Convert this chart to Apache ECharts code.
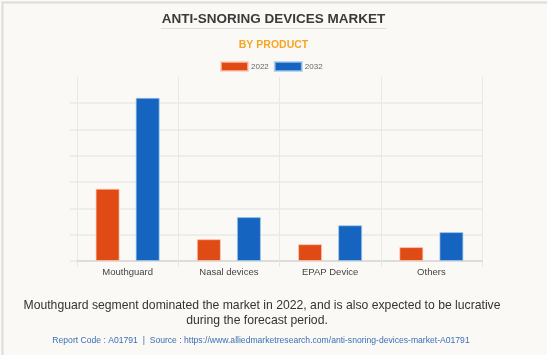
<!DOCTYPE html>
<html><head><meta charset="utf-8">
<script src="https://cdn.jsdelivr.net/npm/echarts@6/dist/echarts.min.js"></script>
<style>html,body{margin:0;padding:0;background:#FAF9F5;}#c{width:547px;height:355px;}</style>
</head><body><div id="c"></div>
<script>
const categories = ['Mouthguard', 'Nasal devices', 'EPAP Device', 'Others'];
const seriesNames = ['2022', '2032'];
const values2022 = [2.75, 0.83, 0.64, 0.53];
const values2032 = [6.21, 1.67, 1.36, 1.10];

const chart = echarts.init(document.getElementById('c'), null, {renderer: 'canvas'});
const FONT = 'Liberation Sans, Arial, sans-serif';
chart.setOption({
  backgroundColor: '#FAF9F5',
  animation: false,
  title: [
    {text: 'ANTI-SNORING DEVICES MARKET', left: 'center', top: 7,
     textStyle: {fontFamily: FONT, fontSize: 13.5, fontWeight: 'bold', color: '#3a3a3a'}},
    {text: 'BY PRODUCT', left: 'center', top: 35,
     textStyle: {fontFamily: FONT, fontSize: 10.5, fontWeight: 'bold', color: '#F6A623'}}
  ],
  legend: {
    data: seriesNames, top: 56, left: 215, itemWidth: 27, itemHeight: 9, itemGap: 5,
    icon: 'rect',
    textStyle: {fontFamily: FONT, fontSize: 8, color: '#666', padding: [0, 0, 0, -2]}
  },
  grid: [
    {left: 77, right: 65, top: 77, bottom: 94},
    {left: 70, right: 65, top: 103, bottom: 94}
  ],
  xAxis: [
    {type: 'category', data: categories, gridIndex: 0,
     axisLine: {lineStyle: {color: '#d8d8d6', width: 1.5}},
     axisTick: {show: true, length: 6, lineStyle: {color: '#e6e6e2'}},
     splitLine: {show: true, lineStyle: {color: '#e8e8e4'}},
     axisLabel: {fontFamily: FONT, fontSize: 9.5, color: '#444', margin: 6}},
    {type: 'value', gridIndex: 1, show: false, min: 0, max: 1}
  ],
  yAxis: [
    {type: 'value', gridIndex: 0, min: 0, max: 7, interval: 1,
     axisLabel: {show: false}, axisLine: {show: false}, axisTick: {show: false}, splitLine: {show: false}},
    {type: 'value', gridIndex: 1, min: 0, max: 6, interval: 1,
     axisLabel: {show: false}, axisLine: {show: false}, axisTick: {show: false},
     splitLine: {show: true, lineStyle: {color: '#e8e8e4', width: 1.5}}}
  ],
  series: [
    {name: seriesNames[0], type: 'bar', data: values2022, xAxisIndex: 0, yAxisIndex: 0,
     barWidth: 24, barGap: '67%',
     itemStyle: {color: '#E04A14', borderColor: 'rgba(255,200,180,0.7)', borderWidth: 1}},
    {name: seriesNames[1], type: 'bar', data: values2032, xAxisIndex: 0, yAxisIndex: 0,
     barWidth: 24,
     itemStyle: {color: '#1565C0', borderColor: 'rgba(160,200,240,0.7)', borderWidth: 1}}
  ],
  graphic: [
    {type: 'rect', left: 0, top: 0, shape: {width: 546, height: 354},
     style: {fill: 'none', stroke: '#dcdcdc', lineWidth: 2}, silent: true},
    {type: 'line', shape: {x1: 161, y1: 28.5, x2: 386, y2: 28.5},
     style: {stroke: '#dddddd', lineWidth: 1}, silent: true},
    {type: 'text', x: 262, y: 306, silent: true,
     style: {text: 'Mouthguard segment dominated the market in 2022, and is also expected to be lucrative',
       font: '12.2px ' + FONT, fill: '#333', textAlign: 'center', textVerticalAlign: 'middle'}},
    {type: 'text', x: 257, y: 321, silent: true,
     style: {text: 'during the forecast period.',
       font: '12.2px ' + FONT, fill: '#333', textAlign: 'center', textVerticalAlign: 'middle'}},
    {type: 'text', x: 261, y: 341, silent: true,
     style: {text: 'Report Code : A01791  |  Source : https://www.alliedmarketresearch.com/anti-snoring-devices-market-A01791',
       font: '8.6px ' + FONT, fill: '#3a6fb8', textAlign: 'center', textVerticalAlign: 'middle'}}
  ]
});
</script></body></html>
